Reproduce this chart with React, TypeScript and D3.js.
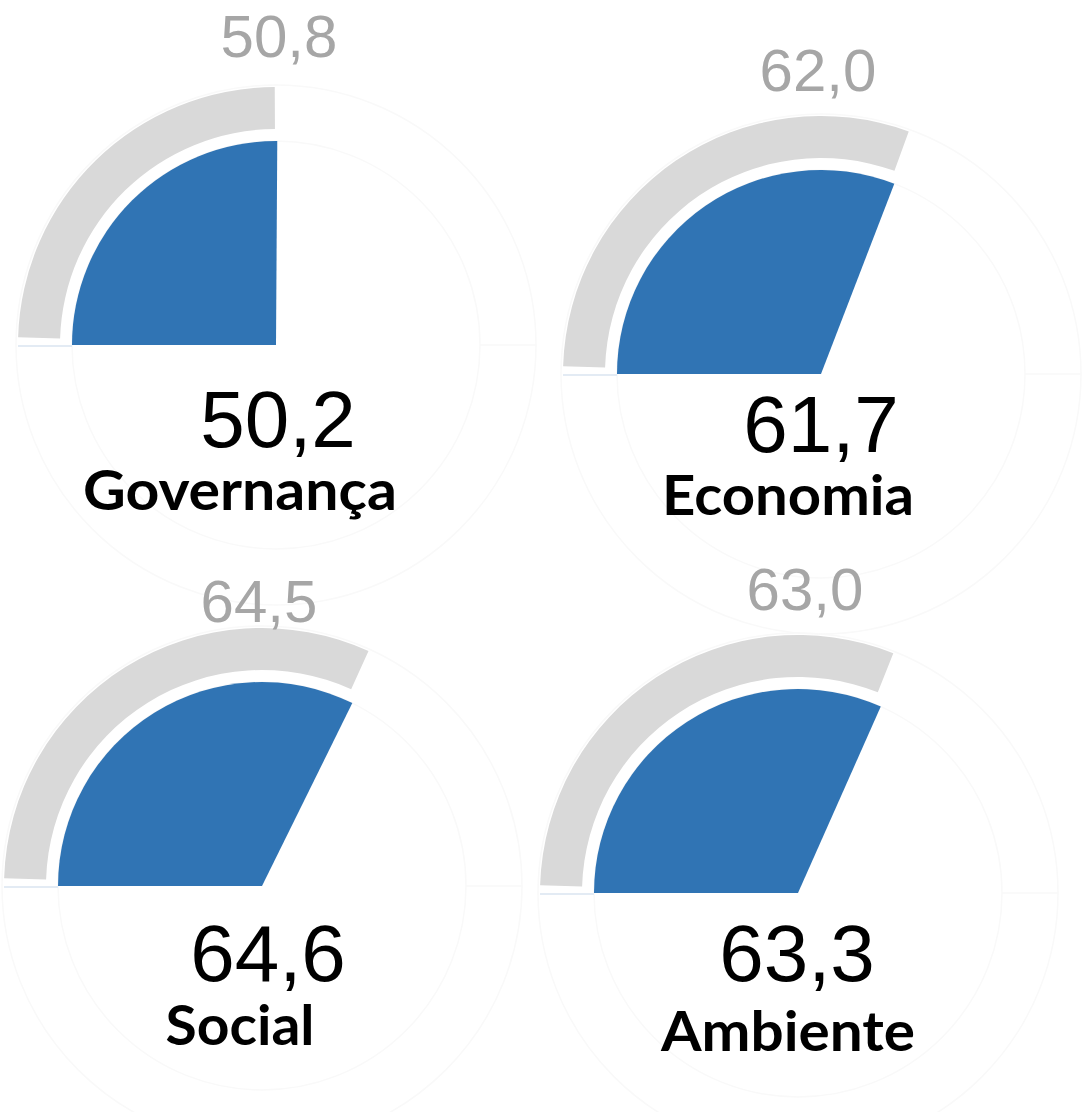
import React from "react";
import * as d3 from "d3";

const categories = ["Governança", "Economia", "Social", "Ambiente"];
const values = [50.2, 61.7, 64.6, 63.3];
const targets = [50.8, 62.0, 64.5, 63.0];

// layout per panel (positions only)
const layout = [
  { cx: 276, cy: 345, ty: 57, tx: 279, vx: 278, vy: 447, lx: 240, ly: 510, lw: 314 },
  { cx: 821, cy: 374, ty: 91, tx: 818, vx: 821, vy: 452, lx: 788, ly: 515, lw: 252 },
  { cx: 262, cy: 886, ty: 622, tx: 259, vx: 268, vy: 981, lx: 240, ly: 1045, lw: 149 },
  { cx: 798, cy: 893, ty: 610, tx: 805, vx: 797, vy: 981, lx: 788, ly: 1051, lw: 254 },
];

const fmt = (v: number) => v.toFixed(1).replace(".", ",");

export default function App() {
  const angle = d3.scaleLinear().domain([0, 100]).range([-Math.PI / 2, Math.PI / 2]);
  const rBlue = 204;
  const rIn = 216;
  const rOut = 258;
  const pad = 0.03;
  const blueArc = d3.arc<any>().innerRadius(0).outerRadius(rBlue);
  const grayArc = d3.arc<any>().innerRadius(rIn).outerRadius(rOut);
  return (
    <svg
      width={1084}
      height={1112}
      style={{ position: "absolute", left: 0, top: 0, background: "#fff" }}
    >
      {categories.map((c, i) => {
        const L = layout[i];
        return (
          <g key={c}>
            <g transform={`translate(${L.cx},${L.cy})`}>
              <circle r={rBlue} fill="none" stroke="#f9f9f9" strokeWidth={1.5} />
              <circle r={rOut + 2} fill="none" stroke="#f9f9f9" strokeWidth={1.5} />
              <line x1={rBlue} x2={rOut + 2} y1={0} y2={0} stroke="#f9f9f9" strokeWidth={1.5} />
              <line x1={-rOut} x2={-rBlue} y1={1} y2={1} stroke="#e3ebf4" strokeWidth={2} />
              <path
                d={grayArc({ startAngle: angle(0) + pad, endAngle: angle(targets[i]) - pad }) as string}
                fill="#d9d9d9"
              />
              <path
                d={blueArc({ startAngle: angle(0), endAngle: angle(values[i]) }) as string}
                fill="#3074b4"
              />
            </g>
            <text
              x={L.tx}
              y={L.ty}
              textAnchor="middle"
              fontFamily="'Liberation Sans', Arial, sans-serif"
              fontSize={60}
              fill="#a6a6a6"
            >
              {fmt(targets[i])}
            </text>
            <text
              x={L.vx}
              y={L.vy}
              textAnchor="middle"
              fontFamily="'Liberation Sans', Arial, sans-serif"
              fontSize={80}
              fill="#000"
            >
              {fmt(values[i])}
            </text>
            <text
              x={L.lx}
              y={L.ly}
              textAnchor="middle"
              fontFamily="Lato, 'Open Sans', sans-serif"
              fontWeight="bold"
              fontSize={55}
              fill="#000"
              textLength={L.lw}
              lengthAdjust="spacingAndGlyphs"
            >
              {c}
            </text>
          </g>
        );
      })}
    </svg>
  );
}
